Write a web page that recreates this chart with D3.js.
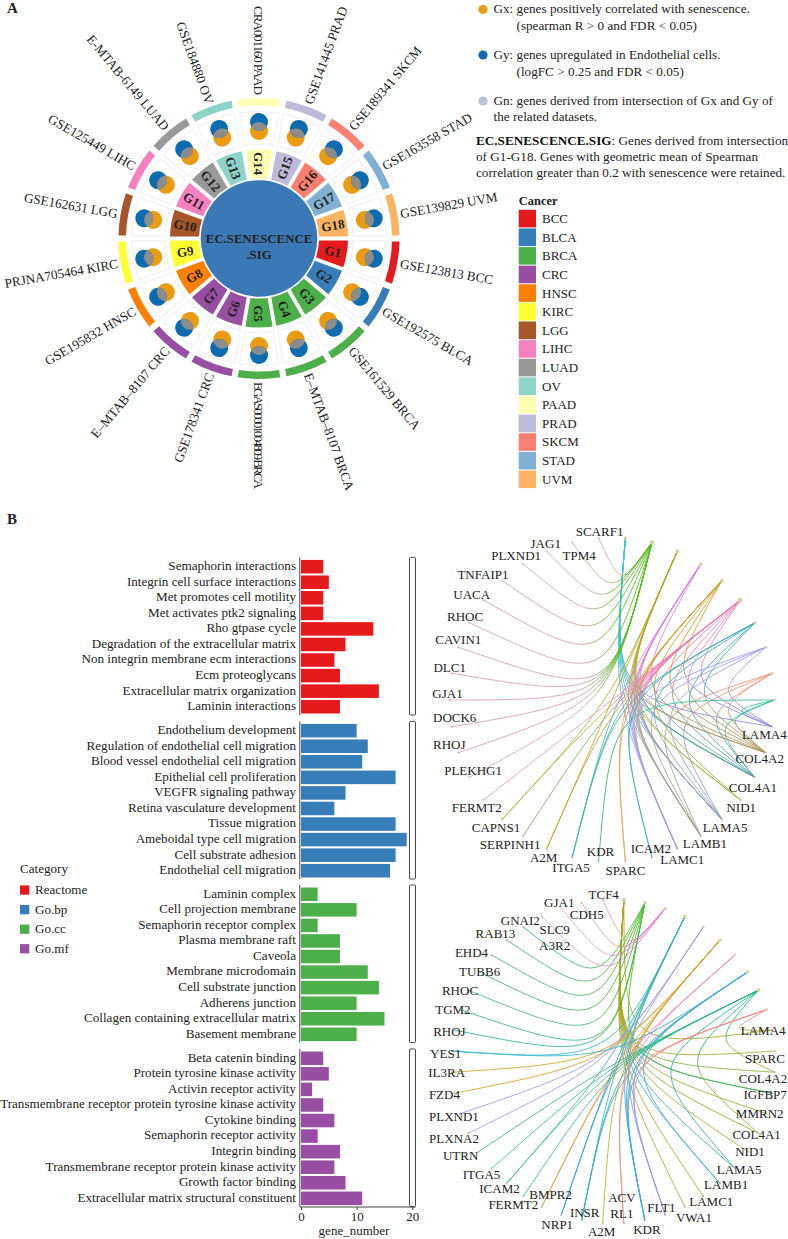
<!DOCTYPE html>
<html><head><meta charset="utf-8">
<script src="https://cdn.jsdelivr.net/npm/d3@7/dist/d3.min.js"></script>
<style>
html,body{margin:0;padding:0;background:#fff}
svg{display:block}
text{font-family:"Liberation Serif","Times New Roman",serif;fill:#222}
</style></head><body><svg id="c" width="788" height="1239"></svg>
<script>
// ---- Panel A data ----
const cancers=["BCC","BLCA","BRCA","CRC","HNSC","KIRC","LGG","LIHC","LUAD","OV","PAAD","PRAD","SKCM","STAD","UVM"];
const cancerColors=["#E41A1C","#377EB8","#4DAF4A","#984EA3","#FF7F00","#FFFF33","#A65628","#F781BF","#999999","#8DD3C7","#FFFFB3","#BEBADA","#FB8072","#80B1D3","#FDB462"];
const groupIds=["G1","G2","G3","G4","G5","G6","G7","G8","G9","G10","G11","G12","G13","G14","G15","G16","G17","G18"];
const datasets=["GSE123813 BCC","GSE192575 BLCA","GSE161529 BRCA","E–MTAB–8107 BRCA","EGAS00001004809 BRCA","GSE178341 CRC","E–MTAB–8107 CRC","GSE195832 HNSC","PRJNA705464 KIRC","GSE162631 LGG","GSE125449 LIHC","E-MTAB-6149 LUAD","GSE184880 OV","CRA001160 PAAD","GSE141445 PRAD","GSE189341 SKCM","GSE163558 STAD","GSE139829 UVM"];
const groupCancer=["BCC","BLCA","BRCA","BRCA","BRCA","CRC","CRC","HNSC","KIRC","LGG","LIHC","LUAD","OV","PAAD","PRAD","SKCM","STAD","UVM"];
// ---- Panel B bars ----
const catNames=["Reactome","Go.bp","Go.cc","Go.mf"];
const catColors=["#E41A1C","#377EB8","#4DAF4A","#984EA3"];
const reactomeTerms=["Semaphorin interactions","Integrin cell surface interactions","Met promotes cell motility","Met activates ptk2 signaling","Rho gtpase cycle","Degradation of the extracellular matrix","Non integrin membrane ecm interactions","Ecm proteoglycans","Extracellular matrix organization","Laminin interactions"];
const reactomeValues=[4,5,4,4,13,8,6,7,14,7];
const bpTerms=["Endothelium development","Regulation of endothelial cell migration","Blood vessel endothelial cell migration","Epithelial cell proliferation","VEGFR signaling pathway","Retina vasculature development","Tissue migration","Ameboidal type cell migration","Cell substrate adhesion","Endothelial cell migration"];
const bpValues=[10,12,11,17,8,6,17,19,17,16];
const ccTerms=["Laminin complex","Cell projection membrane","Semaphorin receptor complex","Plasma membrane raft","Caveola","Membrane microdomain","Cell substrate junction","Adherens junction","Collagen containing extracellular matrix","Basement membrane"];
const ccValues=[3,10,3,7,7,12,14,10,15,10];
const mfTerms=["Beta catenin binding","Protein tyrosine kinase activity","Activin receptor activity","Transmembrane receptor protein tyrosine kinase activity","Cytokine binding","Semaphorin receptor activity","Integrin binding","Transmembrane receptor protein kinase activity","Growth factor binding","Extracellular matrix structural constituent"];
const mfValues=[4,5,2,4,6,3,7,6,8,11];
const xTicks=[0,10,20];
// ---- Panel B networks ----
const net1Pathways=["#3fc4d4","#58bb1c","#b3a824","#d87fe4","#d39c22","#f27db4","#2fa9b9","#9d9df0","#f0917a","#2fc093"];
const net1Genes=["LAMA4","COL4A2","COL4A1","NID1","LAMA5","LAMB1","LAMC1","ICAM2","SPARC","KDR","ITGA5","A2M","SERPINH1","CAPNS1","FERMT2","PLEKHG1","RHOJ","DOCK6","GJA1","DLC1","CAVIN1","RHOC","UACA","TNFAIP1","PLXND1","JAG1","TPM4","SCARF1"];
const net1GeneColors=["#8a8ad8","#a89660","#58a4a4","#a4b040","#90a0b4","#a8a090","#a0a0dc","#50b0c0","#e0a468","#3cb070","#40b8a8","#c0a030","#80b060","#b8b040","#e89ab8","#dca6bc","#d49cb8","#d49cb8","#dc9cc0","#dca0bc","#d8a0b8","#d8a0b8","#d4a0a8","#d8a0a8","#d8a8b0","#d8a4ac","#dca4a4","#dca8a4"];
const net1Edges=[
 ["COL4A1","COL4A2","LAMA4","LAMA5","LAMB1","LAMC1","NID1"],
 ["SCARF1","TPM4","JAG1","PLXND1","TNFAIP1","UACA","RHOC","CAVIN1","DLC1","GJA1","DOCK6","RHOJ","PLEKHG1"],
 ["COL4A1","COL4A2","LAMA5","LAMB1","LAMC1","NID1","CAPNS1","A2M"],
 ["COL4A1","COL4A2","LAMA5","LAMB1","LAMC1","ITGA5"],
 ["COL4A1","COL4A2","LAMA4","LAMA5","LAMB1","LAMC1","SPARC"],
 ["LAMA4","COL4A2","COL4A1","NID1","LAMA5","LAMB1","LAMC1","ICAM2","SPARC","ITGA5","A2M","SERPINH1","CAPNS1","FERMT2"],
 ["COL4A1","COL4A2","ICAM2","ITGA5","LAMA5"],
 ["LAMA4","LAMA5","LAMB1","LAMC1"],
 ["COL4A1","COL4A2","LAMA5","LAMB1"],
 ["KDR","LAMA4","COL4A2","COL4A1"]
];
const net2Pathways=["#aca81e","#48b82c","#e070d8","#2fb5b0","#a89ae4","#dca028","#ee7cc0","#38a8d8","#1fb880","#f08c8c"];
const net2Genes=["LAMA4","SPARC","COL4A2","IGFBP7","MMRN2","COL4A1","NID1","LAMA5","LAMB1","LAMC1","VWA1","FLT1","KDR","ACV\nRL1","A2M","INSR","NRP1","BMPR2","FERMT2","ICAM2","ITGA5","UTRN","PLXNA2","PLXND1","FZD4","IL3RA","YES1","RHOJ","TGM2","RHOC","TUBB6","EHD4","RAB13","GNAI2","SLC9\nA3R2","GJA1","CDH5","TCF4"];
const net2GeneColors=["#a8a830","#a8a830","#88b040","#50b060","#a8a830","#98a838","#a8a838","#40a8a8","#48a8c8","#b0a838","#b0a838","#a090e0","#38a8d8","#e89880","#c0a828","#30b0b0","#3898d0","#e0a050","#40b8a0","#40b8a8","#40b8a0","#40b090","#a898e8","#a898e8","#d8a028","#d0a030","#30b8d0","#38b090","#40b090","#50b080","#50b070","#50b070","#50b080","#40b090","#e0a0c0","#e0a0c0","#e4a0b0","#e8a898"];
const net2Edges=[
 ["LAMA4","SPARC","COL4A2","IGFBP7","MMRN2","COL4A1","NID1","LAMA5","LAMB1","LAMC1","VWA1"],
 ["RHOC","TUBB6","EHD4","RAB13","GNAI2","TGM2","RHOJ","IGFBP7"],
 ["SLC9\nA3R2","GJA1","CDH5","TCF4"],
 ["YES1","FLT1","KDR","NRP1","INSR","ICAM2"],
 ["PLXNA2","PLXND1","NRP1"],
 ["IL3RA","FZD4","ACV\nRL1","BMPR2","A2M","KDR"],
 ["ACV\nRL1","BMPR2"],
 ["YES1","FLT1","KDR","INSR","LAMB1"],
 ["ITGA5","ICAM2","UTRN","FERMT2","COL4A1","LAMA5","COL4A2"],
 ["KDR","FLT1","INSR","LAMA4"]
];
// ---- Layout (label offsets from each node, not data) ----
const net1Nudge=[[-8,8],[-6,6],[-2,10],[1,8],[3,8],[4,7],[5,11],[-1,-9],[0,9],[2,-10],[-1,10],[-3,9],[-13,8],[-6,8],[-7,8],[4,-7],[-9,-8],[3,-9],[-2,-7],[-2,-6],[0,-8],[-4,-6],[-12,-6],[-19,-6],[-7,-9],[-1,-8],[7,13],[1,-7]];
const net2Nudge=[[-9,0],[-10,7],[-12,6],[-7,1],[-7,0],[-2,1],[2,0],[4,1],[6,1],[8,5],[9,10],[-4,-8],[2,9],[-2,-18],[-1,8],[3,-8],[-4,9],[9,-13],[-10,8],[-7,5],[-10,6],[-18,4],[-14,5],[-6,3],[-10,1],[-5,0],[-6,2],[-5,1],[-7,0],[-8,0],[1,0],[-20,-2],[-11,-6],[-3,-7],[13,21],[-2,-6],[5,12],[1,-6]];
const squeezedLabels={"EGAS00001004809 BRCA":107,"CRA001160 PAAD":89};

const svg=d3.select("#c");
const SERIF='"Liberation Serif","Times New Roman",serif';
svg.append("text").attr("x",7).attr("y",13).attr("font-size",15).attr("font-weight","bold").attr("fill","#111").text("A");
svg.append("text").attr("x",7).attr("y",524).attr("font-size",15).attr("font-weight","bold").attr("fill","#111").text("B");

// ---------- ring ----------
const cx=259,cy=238.5;
const ring=svg.append("g").attr("transform",`translate(${cx},${cy})`);
const ang=d3.scaleBand().domain(groupIds).range([Math.PI/2,Math.PI/2+2*Math.PI]);
const cancerColor=d3.scaleOrdinal().domain(cancers).range(cancerColors);
const mid=g=>ang(g)+ang.bandwidth()/2;
const deg=g=>(mid(g)*180/Math.PI-90)%360;
const flip=g=>{const d=deg(g);return d>90&&d<=270};
const rot=g=>{const d=deg(g);return d>90&&d<=270&&d!==90?d+180:d};
const arcOf=(r0,r1,pad)=>d3.arc().innerRadius(r0).outerRadius(r1).padAngle(pad);
const groupArc=arcOf(60,89,.035), cellArc=arcOf(94,127,.03), outerArc=arcOf(133,140.5,.032);
const angles=g=>({startAngle:ang(g),endAngle:ang(g)+ang.bandwidth()});
ring.selectAll("path.cell").data(groupIds).join("path").attr("class","cell")
 .attr("d",g=>cellArc(angles(g))).attr("fill","#fff").attr("stroke","#f1f1f1").attr("stroke-width",1.2);
ring.selectAll("path.outer").data(groupIds).join("path").attr("class","outer")
 .attr("d",g=>outerArc(angles(g))).attr("fill",(g,i)=>cancerColor(groupCancer[i]));
ring.selectAll("path.group").data(groupIds).join("path").attr("class","group")
 .attr("d",g=>groupArc(angles(g))).attr("fill",(g,i)=>cancerColor(groupCancer[i]));
ring.append("circle").attr("r",58.3).attr("fill","#3a79b6");
ring.append("text").attr("text-anchor","middle").attr("y",4).attr("font-size",12.8).attr("font-weight","bold").attr("fill","#0d2a4d").text("EC.SENESCENCE");
ring.append("text").attr("text-anchor","middle").attr("y",20).attr("font-size",12.8).attr("font-weight","bold").attr("fill","#0d2a4d").text(".SIG");
ring.selectAll("text.gl").data(groupIds).join("text").attr("class","gl")
 .attr("text-anchor","middle").attr("dy","0.35em").attr("font-size",13).attr("font-weight","bold").attr("fill","#111")
 .attr("transform",g=>`rotate(${deg(g)}) translate(75,0) rotate(${rot(g)-deg(g)})`).text(g=>g);
const venn=ring.selectAll("g.v").data(groupIds).join("g").attr("class","v").attr("transform",g=>`rotate(${deg(g)}) translate(112,0)`);
const clipDefs=svg.append("defs");
clipDefs.append("clipPath").attr("id","vclip").append("circle").attr("cx",4.5).attr("r",9);
venn.append("circle").attr("cx",-4.5).attr("r",9).attr("fill","#ea9b12");
venn.append("circle").attr("cx",4.5).attr("r",9).attr("fill","#0d6cb0");
venn.append("circle").attr("cx",-4.5).attr("r",9).attr("fill","#8c8c8c").attr("clip-path","url(#vclip)");
ring.selectAll("text.ds").data(groupIds).join("text").attr("class","ds").attr("font-size",13.2).attr("dy","0.35em")
 .attr("text-anchor",g=>flip(g)?"end":"start")
 .attr("transform",g=>`rotate(${deg(g)}) translate(143.5,0) rotate(${rot(g)-deg(g)})`)
 .each(function(g,i){const L=squeezedLabels[datasets[i]];if(L)d3.select(this).attr("textLength",L).attr("lengthAdjust","spacing")})
 .text((g,i)=>datasets[i]);

// ---------- notes ----------
const notes=svg.append("g");
const note=(x,y,t)=>notes.append("text").attr("x",x).attr("y",y).attr("font-size",13.2).attr("fill","#333").text(t);
[[9.5,"#ea9b12"],[55,"#0d6cb0"],[101,"#b8c4d8"]].forEach(([y,c])=>notes.append("circle").attr("cx",483).attr("cy",y).attr("r",4.6).attr("fill",c));
note(493.5,13,"Gx: genes positively correlated with senescence.");
note(516.5,30,"(spearman R > 0 and FDR < 0.05)");
note(493.5,59,"Gy: genes upregulated in Endothelial cells.");
note(516.5,76,"(logFC > 0.25 and FDR < 0.05)");
note(493.5,105,"Gn: genes derived from intersection of Gx and Gy of");
note(493.5,121,"the related datasets.");
const ec=note(476,145,"");
ec.append("tspan").attr("font-weight","bold").attr("fill","#111").text("EC.SENESCENCE.SIG");
ec.append("tspan").text(": Genes derived from intersection");
note(476,160.5,"of G1-G18. Genes with geometric mean of Spearman");
note(476,176.5,"correlation greater than 0.2 with senescence were retained.");

// cancer legend
svg.append("text").attr("x",518.7).attr("y",205).attr("font-size",12.5).attr("font-weight","bold").attr("fill","#111").text("Cancer");
const ly=d3.scaleBand().domain(cancers).range([209.5,209.5+18.62*15]);
svg.selectAll("rect.cl").data(cancers).join("rect").attr("class","cl").attr("x",518.7).attr("width",17.3)
 .attr("y",d=>ly(d)+.3).attr("height",17.6).attr("fill",d=>cancerColor(d));
svg.selectAll("text.cl").data(cancers).join("text").attr("class","cl").attr("x",542).attr("y",d=>ly(d)+9).attr("dy","0.35em")
 .attr("font-size",13).attr("fill","#333").text(d=>d);

// ---------- bars ----------
const x=d3.scaleLinear().domain([0,20]).range([301,412.3]);
const panels=[[reactomeTerms,reactomeValues,558.9,catColors[0]],[bpTerms,bpValues,722.9,catColors[1]],[ccTerms,ccValues,886.5,catColors[2]],[mfTerms,mfValues,1050.5,catColors[3]]];
panels.forEach(([terms,vals,top,col])=>{
 const y=d3.scaleBand().domain(terms).range([top,top+155.6]).paddingInner(.13).paddingOuter(.065);
 const g=svg.append("g");
 g.append("rect").attr("x",409.5).attr("y",top-1.5).attr("width",6).attr("height",157.6).attr("rx",1).attr("fill","#fff").attr("stroke","#444").attr("stroke-width",1);
 g.selectAll("rect.b").data(terms).join("rect").attr("class","b").attr("x",x(0)).attr("y",t=>y(t))
  .attr("height",y.bandwidth()).attr("width",(t,i)=>x(vals[i])-x(0)).attr("fill",col);
 g.append("line").attr("x1",299.8).attr("x2",299.8).attr("y1",top-1.5).attr("y2",top+156.2).attr("stroke","#444").attr("stroke-width",1);
 g.selectAll("text").data(terms).join("text").attr("x",296).attr("y",t=>y(t)+y.bandwidth()/2-1.2).attr("dy","0.35em")
  .attr("text-anchor","end").attr("font-size",13.1).attr("fill","#333").text(t=>t);
});
const ax=svg.append("g").attr("transform","translate(0,1207)").call(d3.axisBottom(x).tickValues(xTicks).tickSize(3).tickSizeOuter(0));
ax.select(".domain").attr("stroke","#444").attr("d",`M299.8,0H415.5`);
ax.selectAll("line").attr("stroke","#444");
ax.selectAll("text").attr("font-family",SERIF).attr("font-size",13).attr("fill","#333").attr("y",5);
svg.append("text").attr("x",354).attr("y",1235).attr("text-anchor","middle").attr("font-size",13).attr("fill","#333").text("gene_number");
svg.append("text").attr("x",20).attr("y",873).attr("font-size",13.1).attr("fill","#333").text("Category");
const cy2=d3.scalePoint().domain(catNames).range([890,948.7]);
svg.selectAll("rect.cat").data(catNames).join("rect").attr("class","cat").attr("x",20).attr("width",9.3).attr("height",9.3)
 .attr("y",d=>cy2(d)-4.6).attr("fill",(d,i)=>catColors[i]);
svg.selectAll("text.cat").data(catNames).join("text").attr("class","cat").attr("x",35).attr("y",d=>cy2(d)-.5).attr("dy","0.35em")
 .attr("font-size",13.1).attr("fill","#333").text(d=>d);

// ---------- networks ----------
const defs=clipDefs;
let gid=0;
function network(cxN,cyN,R,pathCols,genes,geneCols,edges,nudge){
 const g=svg.append("g");
 const pIds=pathCols.map((c,i)=>"P"+i);
 const all=pIds.concat(genes);
 const th=d3.scaleBand().domain(all).range([0,2*Math.PI]);
 const pos=n=>{const a=th(n)+th.bandwidth()/2;return [cxN+R*Math.sin(a),cyN-R*Math.cos(a)]};
 edges.forEach((list,pi)=>{
  const p=pos(pIds[pi]);
  list.forEach(gene=>{
   const q=pos(gene);
   const mx=(p[0]+q[0])/2,my=(p[1]+q[1])/2;
   const m=Math.hypot(mx-cxN,my-cyN)/R;
   const k=Math.max(0,(m-.75)/.25)*.75;   // far-apart pairs bend through the centre, neighbours stay near the rim
   const c=[cxN+k*(mx-cxN),cyN+k*(my-cyN)];
   const id="eg"+(gid++);
   const lg=defs.append("linearGradient").attr("id",id).attr("gradientUnits","userSpaceOnUse")
     .attr("x1",q[0]).attr("y1",q[1]).attr("x2",p[0]).attr("y2",p[1]);
   lg.append("stop").attr("offset","0").attr("stop-color",geneCols[genes.indexOf(gene)]);
   lg.append("stop").attr("offset","0.42").attr("stop-color",geneCols[genes.indexOf(gene)]);
   lg.append("stop").attr("offset","0.62").attr("stop-color",pathCols[pi]);
   lg.append("stop").attr("offset","1").attr("stop-color",pathCols[pi]);
   const path=d3.path();path.moveTo(q[0],q[1]);path.bezierCurveTo(c[0],c[1],c[0],c[1],p[0],p[1]);
   g.append("path").attr("d",path.toString()).attr("fill","none").attr("stroke",`url(#${id})`).attr("stroke-width",1).attr("stroke-opacity",.85);
  });
 });
 const sizeP=edges.map(l=>l.length);
 const rs=d3.scaleSqrt().domain([1,14]).range([1,2.4]);
 g.selectAll("circle.p").data(pIds).join("circle").attr("class","p").attr("cx",n=>pos(n)[0]).attr("cy",n=>pos(n)[1]).attr("r",(n,i)=>rs(sizeP[i])).attr("fill","#d9d2a8");
 g.selectAll("circle.n").data(genes).join("circle").attr("class","n").attr("cx",n=>pos(n)[0]).attr("cy",n=>pos(n)[1]).attr("r",.9).attr("fill","#bdb8a8");
 genes.forEach((n,i)=>{
  const p=pos(n),lines=n.split("\n"),lh=15.5;
  lines.forEach((t,j)=>{
   g.append("text").attr("x",p[0]+nudge[i][0]).attr("y",p[1]+nudge[i][1]+(j-(lines.length-1)/2)*lh).attr("dy","0.35em")
    .attr("text-anchor","middle").attr("font-size",13).attr("fill","#333").text(t);
  });
 });
}
network(612,700,162.5,net1Pathways,net1Genes,net1GeneColors,net1Edges,net1Nudge);
network(613.3,1061.7,162,net2Pathways,net2Genes,net2GeneColors,net2Edges,net2Nudge);
</script></body></html>
